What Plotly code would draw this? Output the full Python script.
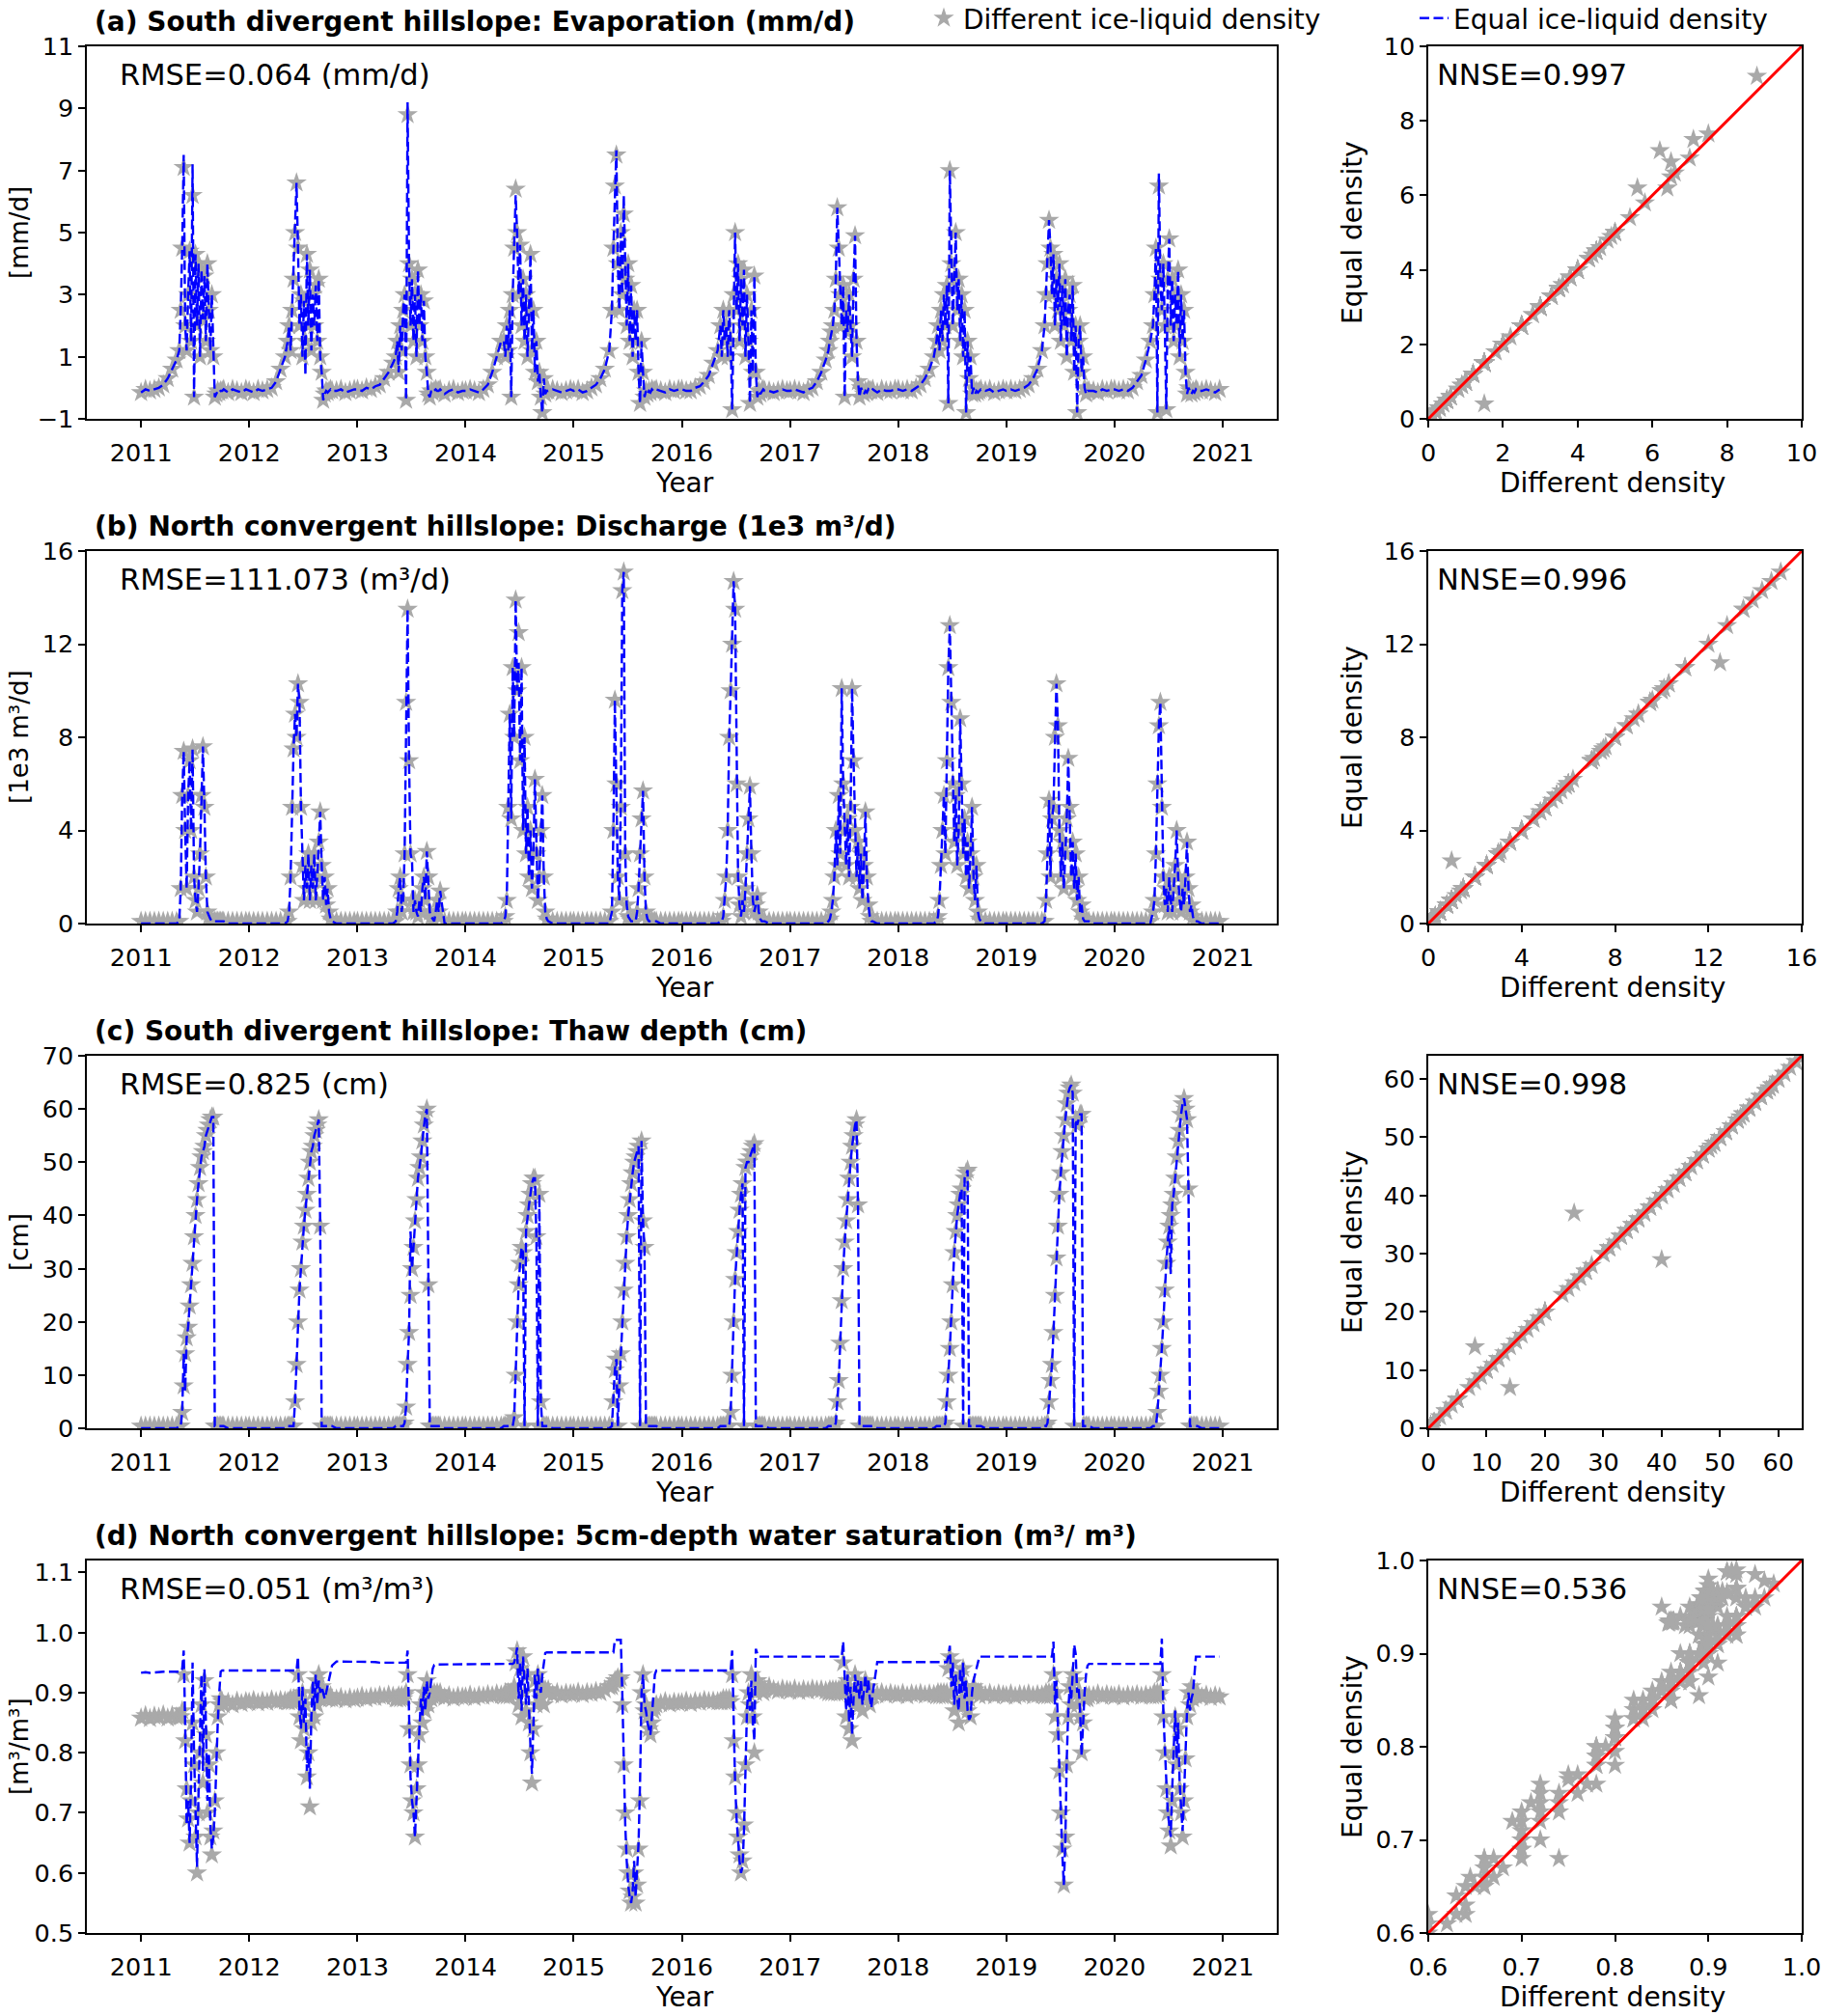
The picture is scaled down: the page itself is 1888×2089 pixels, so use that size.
import plotly.graph_objects as go

W, H = 1888, 2089

# sampling calendar (month-day) used for every year
years = list(range(2011, 2021))
spring_days = ["01-01", "01-16", "01-31", "02-15", "03-02", "03-17", "04-01", "04-16", "05-01"]
summer_days = ["05-10", "05-15", "05-20", "05-25", "05-30", "06-04", "06-09", "06-14", "06-19", "06-24",
               "06-29", "07-04", "07-09", "07-14", "07-19", "07-24", "07-29", "08-03", "08-08", "08-13",
               "08-18", "08-23", "08-28", "09-02", "09-07", "09-12", "09-17", "09-22", "09-27", "10-02", "10-07"]
autumn_days = ["10-22", "11-06", "11-21", "12-06", "12-21"]
year_ticks = [str(y) for y in range(2011, 2022)]

# ---------------- (a) evaporation, mm/d ----------------
evap_spring = [
    [-0.15, -0.05, -0.1, -0.05, 0.0, 0.1, 0.3, 0.6, 0.9],
    [-0.1, -0.15, -0.05, -0.1, -0.05, 0.0, 0.2, 0.6, 1.0],
    [-0.05, -0.1, 0.0, -0.05, 0.05, 0.1, 0.3, 0.5, 0.8],
    [-0.1, -0.05, -0.1, -0.15, -0.05, 0.1, 0.5, 1.0, 1.5],
    [-0.1, -0.05, -0.15, -0.1, 0.0, 0.1, 0.3, 0.6, 1.2],
    [-0.05, -0.1, -0.1, 0.0, 0.05, 0.2, 0.4, 0.8, 1.2],
    [-0.1, -0.05, -0.1, -0.15, -0.05, 0.0, 0.2, 0.5, 0.9],
    [-0.05, -0.1, -0.05, -0.1, 0.0, 0.1, 0.3, 0.6, 1.0],
    [-0.1, -0.05, -0.1, -0.05, 0.0, 0.1, 0.3, 0.6, 1.2],
    [-0.05, -0.1, -0.05, -0.1, 0.0, 0.2, 0.4, 0.9, 1.5],
]
evap_summer = [
    [1.2, 2.5, 4.5, 7.1, 2.0, 1.2, 3.0, 4.4, 1.5, 6.2, -0.3, 4.3, 2.0, 4.0, 1.0, 3.8, 2.2, 3.6, 1.5, 4.0,
     2.5, 1.2, 3.0, 1.0, -0.3, -0.2, -0.1, -0.15, -0.1, -0.1, -0.05],
    [1.5, 2.0, 1.2, 2.5, 3.5, 5.0, 6.6, 4.5, 2.0, 3.0, 1.0, 2.8, 1.5, 4.3, 2.0, 3.8, 1.2, 3.0, 2.0, 3.3,
     1.5, 3.5, 1.0, 0.5, -0.4, -0.2, -0.1, -0.15, -0.1, -0.05, -0.1],
    [1.0, 1.5, 0.5, 2.0, 1.2, 2.5, 3.0, -0.4, 8.8, 4.0, 2.0, 3.5, 1.5, 3.0, 1.0, 3.8, 2.0, 3.0, 1.5, 2.8,
     1.0, 0.5, -0.2, -0.3, -0.1, -0.15, -0.1, -0.05, -0.1, -0.1, -0.05],
    [1.5, 1.0, 2.0, 1.2, 2.5, -0.3, 3.0, 4.5, 6.4, 5.0, 3.0, 4.6, 2.0, 3.5, 1.5, 3.0, 1.0, 2.5, 4.3, 1.2,
     2.5, 0.5, 1.5, 0.2, 0.5, -0.3, -0.8, 0.3, -0.2, -0.1, -0.1],
    [2.5, 4.5, 6.5, 7.5, 4.0, 2.5, 5.0, 3.0, 5.6, 3.5, 2.0, 4.0, 1.5, 3.3, 1.0, 2.5, 1.5, 2.5, 0.5, -0.5,
     1.5, 0.5, -0.3, -0.1, -0.2, -0.1, -0.15, -0.05, -0.1, -0.1, -0.05],
    [2.0, 1.0, 2.5, 1.5, 2.0, 1.0, 2.5, 1.5, -0.7, 3.0, 5.0, 2.5, 4.0, 1.5, 3.5, 2.0, 3.8, 1.0, 3.0, 1.5,
     -0.5, 2.5, 0.5, 3.6, 0.5, -0.3, -0.1, -0.2, -0.1, -0.05, -0.1],
    [1.2, 1.5, 1.8, 2.0, 2.5, 3.5, 5.8, 4.5, 3.0, 2.0, 3.3, -0.3, 2.5, 1.8, 3.0, 2.0, 1.0, 3.5, 4.9, 1.5,
     0.2, -0.3, 0.0, -0.1, -0.2, -0.1, -0.15, -0.05, -0.1, -0.1, -0.05],
    [1.5, 2.0, 1.2, 2.5, 1.5, 3.0, 2.0, 3.3, -0.5, 7.0, 4.0, 2.0, 3.5, 5.0, 2.5, 3.5, 1.5, 3.0, 1.0, 2.5,
     -0.8, 1.5, 0.3, 1.0, -0.2, 0.0, -0.2, -0.1, -0.15, -0.1, -0.05],
    [2.0, 3.0, 4.0, 5.4, 4.5, 3.0, 4.3, 2.0, 3.5, 2.5, 4.0, 1.5, 3.3, 2.0, 3.5, 1.0, 2.5, 3.0, 1.5, 3.3,
     0.5, 2.0, -0.8, 1.5, 2.0, 0.5, 1.0, 0.0, -0.2, -0.1, -0.1],
    [2.0, 3.0, 4.5, -0.8, 6.5, 3.5, 2.5, 4.0, 2.0, -0.7, 3.5, 4.8, 2.0, 3.5, 1.5, 3.0, 2.0, 3.8, 1.0, 3.0,
     1.5, 2.5, 0.5, -0.2, 0.0, -0.1, -0.2, -0.1, -0.15, -0.05, -0.1],
]
evap_autumn = [
    [-0.15, -0.05, -0.1, -0.15, -0.05],
    [-0.1, -0.05, -0.15, -0.1, -0.05],
    [-0.2, -0.1, -0.05, -0.15, -0.1],
    [-0.05, -0.1, -0.15, -0.1, -0.05],
    [-0.1, -0.15, -0.05, -0.1, -0.05],
    [-0.1, -0.15, -0.1, -0.05, -0.1],
    [-0.15, -0.05, -0.1, -0.1, -0.05],
    [-0.1, -0.05, -0.15, -0.1, -0.05],
    [-0.1, -0.15, -0.05, -0.1, -0.05],
    [-0.1, -0.05, -0.1, -0.15, -0.05],
]
# days where the equal-density run differs visibly
evap_equal_changes = {"2011-05-25": 7.5, "2011-06-24": 7.2, "2012-07-09": 0.4, "2013-06-19": 9.2,
                      "2014-06-19": 6.2, "2015-05-25": 7.65, "2015-06-19": 6.2, "2020-05-30": 6.9}

# ---------------- (b) discharge, 1e3 m3/d ----------------
discharge_winter_diff = 0.1
discharge_winter_equal = 0.0
discharge_summer = [
    [0.1, 1.5, 5.5, 7.4, 4.0, 1.5, 5.5, 7.0, 4.0, 7.5, 2.0, 1.0, 0.5, 1.5, 3.0, 5.5, 7.6, 5.0, 2.0, 0.5,
     0.3, 0.2, 0.1, 0.1, 0.1, 0.1, 0.1, 0.1, 0.1, 0.1, 0.1],
    [0.1, 0.5, 2.0, 5.0, 7.5, 9.0, 8.0, 10.3, 9.5, 5.0, 2.5, 1.0, 2.5, 1.5, 3.0, 1.0, 2.5, 1.5, 3.0, 1.0,
     2.0, 3.5, 4.8, 2.5, 1.0, 2.0, 0.8, 1.5, 0.5, 0.2, 0.1],
    [0.1, 0.5, 1.5, 2.0, 0.5, 1.0, 3.0, 9.5, 13.5, 7.0, 3.0, 1.0, 0.5, 1.0, 0.5, 0.3, 1.0, 0.5, 1.5, 2.0,
     1.0, 3.1, 2.0, 0.5, 0.3, 0.2, 0.1, 0.5, 1.0, 0.5, 1.4],
    [0.1, 0.3, 1.0, 5.0, 9.0, 4.5, 11.0, 8.0, 13.9, 10.0, 12.5, 7.0, 11.0, 4.0, 8.0, 3.0, 5.0, 2.0, 4.0, 1.5,
     3.0, 6.2, 3.0, 1.0, 2.0, 4.0, 5.5, 2.0, 0.5, 0.2, 0.1],
    [0.5, 4.0, 9.6, 6.0, 2.0, 1.0, 5.0, 14.3, 15.1, 3.0, 0.8, 0.3, 0.2, 0.1, 0.1, 0.1, 0.1, 0.5, 1.5, 3.0,
     4.5, 5.7, 2.0, 0.5, 0.2, 0.1, 0.1, 0.1, 0.1, 0.1, 0.1],
    [0.1, 0.1, 0.3, 1.0, 2.0, 4.0, 8.0, 10.0, 12.0, 14.7, 13.5, 6.0, 2.0, 0.8, 0.3, 1.0, 0.5, 1.5, 3.0, 4.5,
     5.9, 3.0, 1.0, 0.5, 0.8, 1.2, 0.5, 0.2, 0.1, 0.1, 0.1],
    [0.1, 0.2, 0.5, 1.0, 2.0, 4.0, 2.5, 5.5, 3.0, 10.1, 6.0, 4.0, 2.5, 4.5, 2.0, 5.0, 10.1, 7.0, 4.0, 2.0,
     3.5, 1.5, 3.0, 1.0, 2.5, 4.8, 2.0, 0.8, 0.3, 0.1, 0.1],
    [0.1, 0.3, 1.0, 2.5, 4.0, 5.5, 3.0, 7.0, 11.0, 12.8, 9.5, 6.0, 3.5, 5.5, 2.5, 4.0, 8.8, 6.0, 3.0, 4.5,
     2.0, 3.5, 1.5, 3.0, 5.0, 2.0, 1.0, 2.5, 0.5, 0.2, 0.1],
    [0.1, 1.0, 3.0, 5.3, 2.0, 4.5, 5.0, 8.0, 10.3, 8.5, 4.0, 2.0, 3.5, 1.5, 3.0, 4.5, 7.1, 5.0, 2.0, 3.5,
     1.5, 3.0, 1.0, 2.0, 0.5, 0.8, 0.2, 0.1, 0.1, 0.1, 0.1],
    [0.5, 1.0, 3.0, 6.0, 8.5, 9.5, 5.0, 2.0, 0.8, 1.5, 0.5, 2.0, 1.0, 0.5, 1.5, 2.5, 4.0, 2.0, 1.0, 0.5,
     1.5, 0.8, 2.0, 3.5, 1.5, 0.5, 0.8, 0.3, 0.1, 0.1, 0.1],
]
discharge_equal_changes = {"2013-07-04": 2.7, "2014-06-29": 11.2}

# ---------------- (c) thaw depth, cm ----------------
thaw_winter_diff = 0.4
thaw_winter_equal = 0.0
thaw_summer = [
    [0.4, 0.4, 3, 8, 14, 17, 19, 23, 27, 31, 36, 40, 43, 46, 49, 51, 52, 53, 55, 56,
     57, 58, 58.5, 58.5, 0.4, 0.4, 0.4, 0.4, 0.4, 0.4, 0.4],
    [0.4, 0.4, 0.4, 0.4, 0.4, 5, 12, 20, 26, 30, 35, 38, 41, 44, 47, 50, 52, 53, 55, 56,
     57, 58, 38, 0.4, 0.4, 0.4, 0.4, 0.4, 0.4, 0.4, 0.4],
    [0.4, 0.4, 0.4, 0.4, 0.4, 0.4, 1, 4, 12, 18, 25, 30, 34, 39, 43, 47, 49, 51, 54, 57,
     59, 60, 27, 0.4, 0.4, 0.4, 0.4, 0.4, 0.4, 0.4, 0.4],
    [0.4, 0.4, 0.4, 0.4, 0.4, 0.4, 0.4, 2, 10, 20, 27, 31, 34, 33, 0.4, 37, 40, 42, 44, 46,
     47, 47, 36, 0.4, 44, 5, 0.4, 0.4, 0.4, 0.4, 0.4],
    [0.4, 5, 11, 13, 0.4, 8, 14, 20, 26, 31, 36, 40, 43, 46, 48, 50, 51, 52, 53, 0.4,
     54, 39, 34, 0.4, 0.4, 0.4, 0.4, 0.4, 0.4, 0.4, 0.4],
    [0.4, 0.4, 0.4, 0.4, 0.4, 0.4, 0.4, 3, 10, 20, 28, 33, 37, 41, 44, 46, 0.4, 49, 50, 50,
     51, 52, 53, 53.5, 0.4, 0.4, 0.4, 0.4, 0.4, 0.4, 0.4],
    [0.4, 0.4, 0.4, 0.4, 0.4, 1, 5, 9, 16, 24, 30, 35, 39, 43, 47, 50, 53, 55, 57, 58,
     42, 0.4, 0.4, 0.4, 0.4, 0.4, 0.4, 0.4, 0.4, 0.4, 0.4],
    [0.4, 0.4, 0.4, 0.4, 0.4, 0.4, 1, 5, 10, 15, 20, 27, 33, 37, 40, 42, 44, 45, 0.4, 47,
     48, 48.5, 0.4, 0.4, 0.4, 0.4, 0.4, 0.4, 0.4, 0.4, 0.4],
    [0.4, 0.4, 1, 5, 9, 12, 18, 25, 32, 38, 44, 48, 52, 55, 58, 61, 63, 64, 64.5, 63,
     0.4, 58, 57, 58, 59, 59, 0.4, 0.4, 0.4, 0.4, 0.4],
    [0.4, 0.4, 0.4, 3, 7, 10, 15, 20, 26, 31, 35, 38, 40, 42, 44, 47, 51, 54, 56, 59,
     61, 62, 60, 58, 45, 0.4, 0.4, 0.4, 0.4, 0.4, 0.4],
]
thaw_equal_changes = {"2011-05-25": 14, "2011-05-30": 7, "2013-06-29": 37, "2020-07-09": 29}

# ---------------- (d) 5 cm water saturation, m3/m3 ----------------
sat_spring_diff = [
    [0.858, 0.862, 0.857, 0.861, 0.859, 0.863, 0.858, 0.862, 0.86],
    [0.884, 0.887, 0.883, 0.886, 0.884, 0.888, 0.885, 0.887, 0.886],
    [0.891, 0.894, 0.89, 0.893, 0.892, 0.895, 0.893, 0.896, 0.894],
    [0.893, 0.896, 0.892, 0.895, 0.894, 0.897, 0.895, 0.898, 0.896],
    [0.898, 0.901, 0.897, 0.9, 0.899, 0.902, 0.9, 0.905, 0.91],
    [0.883, 0.886, 0.882, 0.885, 0.884, 0.887, 0.885, 0.886, 0.885],
    [0.903, 0.906, 0.902, 0.905, 0.903, 0.906, 0.904, 0.905, 0.903],
    [0.896, 0.899, 0.895, 0.898, 0.897, 0.899, 0.896, 0.898, 0.897],
    [0.895, 0.898, 0.894, 0.897, 0.896, 0.898, 0.895, 0.897, 0.896],
    [0.894, 0.897, 0.893, 0.896, 0.895, 0.897, 0.894, 0.896, 0.895],
]
sat_summer_diff = [
    [0.86, 0.86, 0.87, 0.93, 0.82, 0.74, 0.69, 0.65, 0.72, 0.85, 0.78, 0.66, 0.60, 0.70, 0.80, 0.88,
     0.75, 0.92, 0.83, 0.70, 0.78, 0.66, 0.63, 0.67, 0.72, 0.80, 0.86, 0.88, 0.89, 0.885, 0.88],
    [0.885, 0.885, 0.89, 0.885, 0.89, 0.885, 0.89, 0.93, 0.86, 0.82, 0.90, 0.84, 0.88, 0.76, 0.80, 0.71,
     0.85, 0.90, 0.86, 0.92, 0.88, 0.93, 0.89, 0.91, 0.90, 0.895, 0.89, 0.895, 0.89, 0.895, 0.89],
    [0.89, 0.89, 0.895, 0.89, 0.895, 0.89, 0.895, 0.90, 0.93, 0.84, 0.78, 0.72, 0.70, 0.66, 0.74, 0.78,
     0.83, 0.88, 0.85, 0.90, 0.87, 0.92, 0.88, 0.90, 0.89, 0.895, 0.90, 0.895, 0.90, 0.895, 0.90],
    [0.895, 0.90, 0.895, 0.90, 0.895, 0.90, 0.90, 0.91, 0.95, 0.97, 0.88, 0.94, 0.86, 0.96, 0.90, 0.87,
     0.93, 0.85, 0.80, 0.75, 0.84, 0.92, 0.88, 0.93, 0.90, 0.89, 0.91, 0.88, 0.905, 0.90, 0.905],
    [0.91, 0.915, 0.92, 0.92, 0.925, 0.92, 0.925, 0.88, 0.78, 0.70, 0.64, 0.60, 0.57, 0.55, 0.56, 0.60,
     0.55, 0.58, 0.64, 0.72, 0.90, 0.93, 0.87, 0.88, 0.86, 0.84, 0.83, 0.85, 0.87, 0.875, 0.88],
    [0.885, 0.885, 0.89, 0.885, 0.89, 0.885, 0.89, 0.885, 0.93, 0.82, 0.76, 0.70, 0.66, 0.63, 0.60, 0.62,
     0.68, 0.78, 0.86, 0.90, 0.88, 0.93, 0.86, 0.80, 0.90, 0.92, 0.915, 0.91, 0.905, 0.90, 0.905],
    [0.90, 0.905, 0.90, 0.905, 0.90, 0.905, 0.90, 0.905, 0.90, 0.91, 0.95, 0.90, 0.86, 0.92, 0.84, 0.90,
     0.82, 0.88, 0.93, 0.89, 0.92, 0.88, 0.91, 0.87, 0.90, 0.92, 0.89, 0.91, 0.88, 0.90, 0.895],
    [0.895, 0.90, 0.895, 0.90, 0.895, 0.90, 0.895, 0.90, 0.94, 0.96, 0.90, 0.95, 0.87, 0.92, 0.88, 0.85,
     0.93, 0.89, 0.94, 0.88, 0.91, 0.87, 0.89, 0.86, 0.90, 0.91, 0.905, 0.90, 0.90, 0.895, 0.90],
    [0.895, 0.90, 0.895, 0.90, 0.895, 0.90, 0.93, 0.86, 0.90, 0.83, 0.77, 0.70, 0.64, 0.58, 0.66, 0.78,
     0.86, 0.91, 0.88, 0.93, 0.90, 0.92, 0.88, 0.90, 0.86, 0.80, 0.85, 0.89, 0.895, 0.89, 0.895],
    [0.895, 0.90, 0.895, 0.90, 0.895, 0.90, 0.93, 0.86, 0.80, 0.74, 0.70, 0.67, 0.645, 0.72, 0.80, 0.86,
     0.78, 0.84, 0.74, 0.70, 0.66, 0.72, 0.79, 0.86, 0.90, 0.88, 0.91, 0.89, 0.90, 0.895, 0.90],
]
sat_autumn_diff = [
    [0.884, 0.88, 0.886, 0.882, 0.885],
    [0.889, 0.892, 0.888, 0.891, 0.889],
    [0.892, 0.895, 0.891, 0.894, 0.893],
    [0.897, 0.9, 0.896, 0.899, 0.898],
    [0.882, 0.885, 0.881, 0.884, 0.883],
    [0.91, 0.905, 0.903, 0.906, 0.904],
    [0.897, 0.9, 0.896, 0.899, 0.897],
    [0.896, 0.899, 0.895, 0.898, 0.896],
    [0.895, 0.898, 0.894, 0.897, 0.895],
    [0.893, 0.896, 0.892, 0.895, 0.893],
]
sat_spring_equal = [
    [0.933, 0.934, 0.933, 0.934, 0.934, 0.935, 0.935, 0.935, 0.935],
    [0.937, 0.937, 0.937, 0.937, 0.937, 0.937, 0.937, 0.937, 0.937],
    [0.952, 0.952, 0.951, 0.951, 0.951, 0.95, 0.95, 0.95, 0.95],
    [0.947, 0.947, 0.947, 0.947, 0.947, 0.947, 0.947, 0.947, 0.947],
    [0.967, 0.967, 0.967, 0.967, 0.967, 0.967, 0.967, 0.967, 0.967],
    [0.937, 0.937, 0.937, 0.937, 0.937, 0.937, 0.937, 0.937, 0.937],
    [0.96, 0.96, 0.96, 0.96, 0.96, 0.96, 0.96, 0.96, 0.96],
    [0.951, 0.951, 0.951, 0.951, 0.951, 0.951, 0.951, 0.951, 0.951],
    [0.96, 0.96, 0.96, 0.96, 0.96, 0.96, 0.96, 0.96, 0.96],
    [0.948, 0.948, 0.948, 0.948, 0.948, 0.948, 0.948, 0.948, 0.948],
]
sat_summer_equal = [
    [0.935, 0.935, 0.94, 0.97, 0.85, 0.68, 0.72, 0.65, 0.76, 0.95, 0.80, 0.68, 0.61, 0.73, 0.83, 0.93,
     0.77, 0.94, 0.85, 0.72, 0.80, 0.68, 0.64, 0.66, 0.70, 0.78, 0.85, 0.90, 0.935, 0.937, 0.937],
    [0.936, 0.936, 0.937, 0.937, 0.937, 0.937, 0.937, 0.96, 0.87, 0.84, 0.91, 0.85, 0.89, 0.77, 0.81, 0.74,
     0.86, 0.92, 0.87, 0.93, 0.88, 0.92, 0.90, 0.91, 0.90, 0.89, 0.90, 0.91, 0.92, 0.93, 0.945],
    [0.95, 0.95, 0.95, 0.95, 0.95, 0.95, 0.95, 0.95, 0.97, 0.86, 0.76, 0.72, 0.70, 0.66, 0.73, 0.78,
     0.84, 0.89, 0.86, 0.91, 0.87, 0.92, 0.89, 0.90, 0.92, 0.94, 0.946, 0.947, 0.947, 0.947, 0.947],
    [0.947, 0.947, 0.948, 0.948, 0.948, 0.948, 0.948, 0.95, 0.96, 0.975, 0.89, 0.95, 0.87, 0.96, 0.91, 0.88,
     0.94, 0.86, 0.81, 0.765, 0.85, 0.93, 0.89, 0.94, 0.91, 0.90, 0.93, 0.95, 0.966, 0.967, 0.967],
    [0.967, 0.967, 0.988, 0.988, 0.988, 0.988, 0.988, 0.90, 0.78, 0.68, 0.62, 0.58, 0.56, 0.55, 0.57, 0.62,
     0.56, 0.60, 0.65, 0.75, 0.90, 0.93, 0.88, 0.87, 0.85, 0.84, 0.83, 0.86, 0.90, 0.93, 0.937],
    [0.937, 0.937, 0.937, 0.937, 0.937, 0.937, 0.937, 0.937, 0.97, 0.83, 0.75, 0.69, 0.65, 0.62, 0.60, 0.61,
     0.67, 0.80, 0.87, 0.91, 0.87, 0.92, 0.85, 0.82, 0.973, 0.965, 0.96, 0.96, 0.96, 0.96, 0.96],
    [0.96, 0.96, 0.96, 0.96, 0.96, 0.96, 0.96, 0.96, 0.96, 0.96, 0.985, 0.91, 0.87, 0.93, 0.85, 0.91,
     0.83, 0.89, 0.93, 0.90, 0.92, 0.89, 0.92, 0.88, 0.91, 0.93, 0.90, 0.92, 0.89, 0.875, 0.90],
    [0.951, 0.951, 0.951, 0.951, 0.951, 0.951, 0.951, 0.951, 0.96, 0.978, 0.91, 0.95, 0.88, 0.93, 0.89, 0.87,
     0.94, 0.90, 0.95, 0.89, 0.92, 0.87, 0.855, 0.86, 0.90, 0.92, 0.93, 0.94, 0.955, 0.96, 0.96],
    [0.96, 0.96, 0.96, 0.96, 0.96, 0.96, 0.985, 0.88, 0.92, 0.84, 0.76, 0.69, 0.63, 0.58, 0.65, 0.79,
     0.87, 0.91, 0.89, 0.93, 0.98, 0.965, 0.90, 0.91, 0.87, 0.795, 0.86, 0.90, 0.93, 0.945, 0.948],
    [0.948, 0.948, 0.948, 0.948, 0.948, 0.948, 0.99, 0.87, 0.81, 0.74, 0.70, 0.68, 0.66, 0.74, 0.82, 0.87,
     0.79, 0.85, 0.75, 0.71, 0.67, 0.73, 0.80, 0.87, 0.90, 0.87, 0.89, 0.90, 0.93, 0.96, 0.96],
]
sat_autumn_equal = [
    [0.937, 0.937, 0.937, 0.937, 0.937],
    [0.952, 0.952, 0.952, 0.952, 0.952],
    [0.947, 0.947, 0.947, 0.947, 0.947],
    [0.967, 0.967, 0.967, 0.967, 0.967],
    [0.937, 0.937, 0.937, 0.937, 0.937],
    [0.96, 0.96, 0.96, 0.96, 0.96],
    [0.951, 0.951, 0.951, 0.951, 0.951],
    [0.96, 0.96, 0.96, 0.96, 0.96],
    [0.948, 0.948, 0.948, 0.948, 0.948],
    [0.96, 0.96, 0.96, 0.96, 0.96],
]

# ---------------- panel text ----------------
panel_titles = [
    "(a) South divergent hillslope: Evaporation (mm/d)",
    "(b) North convergent hillslope: Discharge (1e3 m³/d)",
    "(c) South divergent hillslope: Thaw depth (cm)",
    "(d) North convergent hillslope: 5cm-depth water saturation (m³/ m³)",
]
unit_labels = ["[mm/d]", "[1e3 m³/d]", "[cm]", "[m³/m³]"]
rmse_labels = ["RMSE=0.064 (mm/d)", "RMSE=111.073 (m³/d)", "RMSE=0.825 (cm)", "RMSE=0.051 (m³/m³)"]
nnse_labels = ["NNSE=0.997", "NNSE=0.996", "NNSE=0.998", "NNSE=0.536"]
ts_ranges = [(-1, 11), (0, 16), (0, 70), (0.5, 1.12)]
ts_ticks = [[-1, 1, 3, 5, 7, 9, 11], [0, 4, 8, 12, 16], [0, 10, 20, 30, 40, 50, 60, 70],
            [0.5, 0.6, 0.7, 0.8, 0.9, 1.0, 1.1]]
ts_ticktext = [["\u22121", "1", "3", "5", "7", "9", "11"], ["0", "4", "8", "12", "16"],
               ["0", "10", "20", "30", "40", "50", "60", "70"],
               ["0.5", "0.6", "0.7", "0.8", "0.9", "1.0", "1.1"]]
sc_ranges = [(0, 10), (0, 16), (0, 64), (0.6, 1.0)]
sc_ticks = [[0, 2, 4, 6, 8, 10], [0, 4, 8, 12, 16], [0, 10, 20, 30, 40, 50, 60], [0.6, 0.7, 0.8, 0.9, 1.0]]
sc_ticktext = [["0", "2", "4", "6", "8", "10"], ["0", "4", "8", "12", "16"],
               ["0", "10", "20", "30", "40", "50", "60"], ["0.6", "0.7", "0.8", "0.9", "1.0"]]


def build(spring, summer, autumn):
    dates, vals = [], []
    for i, yr in enumerate(years):
        for days, block in ((spring_days, spring), (summer_days, summer), (autumn_days, autumn)):
            row = block[i] if isinstance(block, list) else [block] * len(days)
            assert len(row) == len(days), (yr, len(row))
            for d, v in zip(days, row):
                dates.append(f"{yr}-{d}")
                vals.append(v)
    return dates, vals


def changed(dates, vals, changes):
    out = list(vals)
    for d, v in changes.items():
        out[dates.index(d)] = v
    return out


dates, evap_diff = build(evap_spring, evap_summer, evap_autumn)
evap_equal = changed(dates, evap_diff, evap_equal_changes)
_, q_diff = build(discharge_winter_diff, discharge_summer, discharge_winter_diff)
_, q_equal = build(discharge_winter_equal, discharge_summer, discharge_winter_equal)
q_equal = changed(dates, q_equal, discharge_equal_changes)
_, thaw_diff = build(thaw_winter_diff, thaw_summer, thaw_winter_diff)
_, thaw_equal = build(thaw_winter_equal, thaw_summer, thaw_winter_equal)
thaw_equal = changed(dates, thaw_equal, thaw_equal_changes)
_, sat_diff = build(sat_spring_diff, sat_summer_diff, sat_autumn_diff)
_, sat_equal = build(sat_spring_equal, sat_summer_equal, sat_autumn_equal)

series = [(evap_diff, evap_equal), (q_diff, q_equal), (thaw_diff, thaw_equal), (sat_diff, sat_equal)]

GRAY = "#a9a9a9"
FONT = "DejaVu Sans"
STAR = 16
row_tops = [48, 571, 1094, 1617]
row_h = 386
left_x = (90, 1323)
right_x = (1480, 1867)

fig = go.Figure()
layout = {}
annotations = []


def ax_id(n):
    return "" if n == 1 else str(n)


def common_axis():
    return dict(showline=True, linecolor="black", linewidth=1.5, mirror=True, ticks="outside",
                ticklen=7, tickwidth=1.5, tickcolor="black", showgrid=False, zeroline=False,
                automargin=False, tickfont=dict(family=FONT, size=25.5, color="black"))


def note(text, xp, yp, size, xanchor="left", angle=0):
    annotations.append(dict(text=text, x=xp / W, y=1 - yp / H, xref="paper", yref="paper",
                            xanchor=xanchor, yanchor="middle", showarrow=False, textangle=angle,
                            font=dict(family=FONT, size=size, color="black")))


for k in range(4):
    diff, equal = series[k]
    top = row_tops[k]
    ydom = [1 - (top + row_h) / H, 1 - top / H]
    la, ra = ax_id(2 * k + 1), ax_id(2 * k + 2)

    fig.add_trace(go.Scatter(x=dates, y=diff, mode="markers", name="Different ice-liquid density",
                             marker=dict(symbol="star", size=STAR, color=GRAY, line=dict(width=0)),
                             xaxis="x" + la, yaxis="y" + la, showlegend=(k == 0)))
    fig.add_trace(go.Scatter(x=dates, y=equal, mode="lines", name="Equal ice-liquid density",
                             line=dict(color="#0000ff", width=2.4, dash="10px,4.5px"),
                             xaxis="x" + la, yaxis="y" + la, showlegend=(k == 0)))
    fig.add_trace(go.Scatter(x=diff, y=equal, mode="markers", showlegend=False,
                             marker=dict(symbol="star", size=STAR, color=GRAY, line=dict(width=0)),
                             xaxis="x" + ra, yaxis="y" + ra))
    lo, hi = sc_ranges[k]
    fig.add_trace(go.Scatter(x=[lo, hi], y=[lo, hi], mode="lines", showlegend=False,
                             line=dict(color="red", width=3), xaxis="x" + ra, yaxis="y" + ra))

    xl = common_axis()
    xl.update(domain=[left_x[0] / W, left_x[1] / W], anchor="y" + la, type="date",
              range=["2010-07-02", "2021-07-02"],
              tickvals=[f"{y}-01-01" for y in year_ticks], ticktext=year_ticks, ticklabelstandoff=5)
    yl = common_axis()
    yl.update(domain=ydom, anchor="x" + la, range=list(ts_ranges[k]),
              tickvals=ts_ticks[k], ticktext=ts_ticktext[k])
    xr = common_axis()
    xr.update(domain=[right_x[0] / W, right_x[1] / W], anchor="y" + ra, range=list(sc_ranges[k]),
              tickvals=sc_ticks[k], ticktext=sc_ticktext[k], ticklabelstandoff=5)
    yr = common_axis()
    yr.update(domain=ydom, anchor="x" + ra, range=list(sc_ranges[k]),
              tickvals=sc_ticks[k], ticktext=sc_ticktext[k])
    layout["xaxis" + la] = xl
    layout["yaxis" + la] = yl
    layout["xaxis" + ra] = xr
    layout["yaxis" + ra] = yr

    note("<b>" + panel_titles[k] + "</b>", 96, top - 26, 28)
    note(rmse_labels[k], 122, top + 29, 30.5)
    note(nnse_labels[k], 1487, top + 29, 30.5)
    note("Year", 709, top + 452, 28, "center")
    note("Different density", 1671, top + 452, 28, "center")
    note(unit_labels[k], 20, top + row_h / 2, 26, "center", -90)
    note("Equal density", 1401, top + row_h / 2, 28, "center", -90)

fig.update_layout(
    template="none",
    width=W, height=H, autosize=False,
    margin=dict(l=0, r=0, t=0, b=0, pad=0, autoexpand=False),
    paper_bgcolor="white", plot_bgcolor="white",
    font=dict(family=FONT, size=24, color="black"),
    showlegend=True,
    legend=dict(orientation="h", x=958 / W, xanchor="left", y=1 - 19 / H, yanchor="middle",
                font=dict(family=FONT, size=28), bgcolor="rgba(0,0,0,0)", entrywidth=463,
                entrywidthmode="pixels"),
    annotations=annotations,
    **layout,
)

# drop the browser's default 8px page margin so the figure sits at the window origin
fig.write_html("out.html", config={"displayModeBar": False},
               post_script="document.body.style.margin = '0px';")
